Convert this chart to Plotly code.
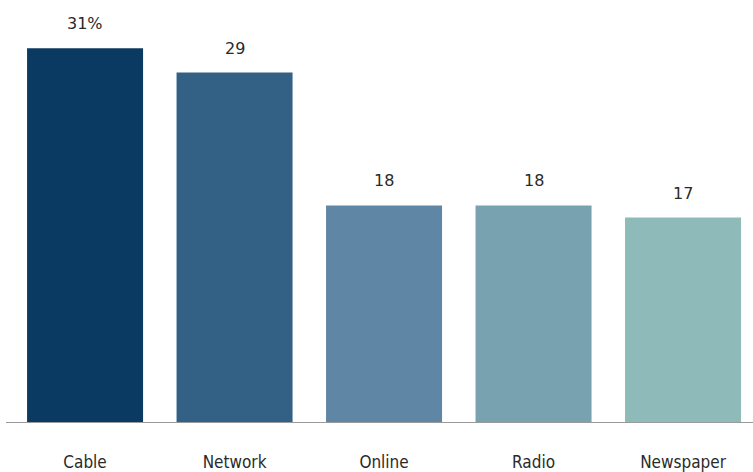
import plotly.graph_objects as go

categories = ["Cable", "Network", "Online", "Radio", "Newspaper"]
values = [31, 29, 18, 18, 17]
labels = ["31%", "29", "18", "18", "17"]
colors = ["#0a3a62", "#336186", "#5f86a5", "#78a2af", "#8fbaba"]

fig = go.Figure(go.Bar(
    x=categories,
    y=values,
    marker=dict(color=colors, line=dict(width=0)),
    hoverinfo="skip",
))

for cat, val, lab in zip(categories, values, labels):
    fig.add_annotation(
        x=cat, y=val, text=lab, showarrow=False,
        yanchor="bottom", yshift=13,
        font=dict(family="DejaVu Sans", size=16, color="#2a2a2a"),
    )

# baseline
fig.add_shape(type="line", xref="paper", yref="y",
              x0=0.008, x1=1, y0=0, y1=0,
              line=dict(color="#9a9a9a", width=2))

fig.update_layout(
    width=753, height=472,
    margin=dict(l=0, r=0, t=0, b=49),
    plot_bgcolor="white", paper_bgcolor="white",
    bargap=0.224,
    showlegend=False,
    xaxis=dict(
        range=[-0.569, 4.468],
        showgrid=False, zeroline=False, showline=False,
        ticks="", ticklabelstandoff=27,
        tickfont=dict(family="DejaVu Sans Condensed, DejaVu Sans", size=17, color="#2a2a2a"),
    ),
    yaxis=dict(
        range=[0, 35], visible=False,
        showgrid=False, zeroline=False,
    ),
)

# page body has a default 8px margin; drop it so the figure fills the window
fig.write_html(
    "out.html",
    config={"displayModeBar": False},
    post_script="document.body.style.margin='0';document.body.style.overflow='hidden';",
)
